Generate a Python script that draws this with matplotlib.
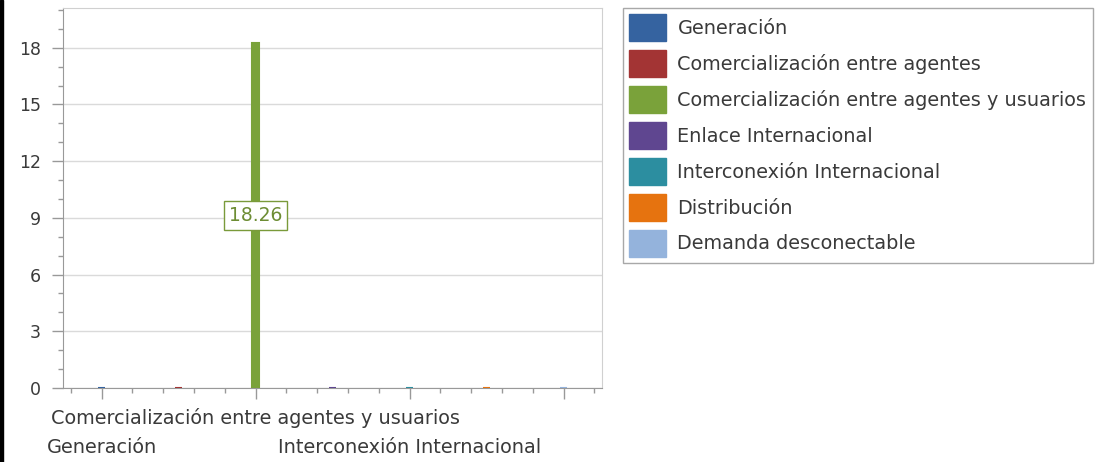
import matplotlib
matplotlib.use("Agg")
import matplotlib.pyplot as plt
from matplotlib.patches import Patch, Rectangle
from matplotlib.ticker import MultipleLocator

categories = ["Generación", "Comercialización entre agentes",
              "Comercialización entre agentes y usuarios", "Enlace Internacional",
              "Interconexión Internacional", "Distribución", "Demanda desconectable"]
values = [0, 0, 18.26, 0, 0, 0, 0]
colors = ["#3563a0", "#a33434", "#7aa23a", "#5f4690", "#2c8ea0", "#e6730f", "#94b3dc"]
yticks = [0, 3, 6, 9, 12, 15, 18]

plt.rcParams['font.family'] = ['DejaVu Sans']
FS = 13.9
TXT = "#3a3a3a"

fig = plt.figure(figsize=(11.05, 4.62), dpi=100)
W, H = 1105, 462
ax = fig.add_axes([63 / W, 1 - 388 / H, (602 - 63) / W, (388 - 8) / H])

x = list(range(len(categories)))
bars = ax.bar(x, values, width=0.09, color=colors, edgecolor=colors, linewidth=1.5, zorder=3)
labels = [f"{v:.2f}" if v > 0 else "" for v in values]
ax.bar_label(bars, labels=labels, label_type='center', fontsize=13.5, color="#6d8d34",
             bbox=dict(boxstyle="square,pad=0.25", fc="white", ec="#7a9a3a", lw=1))

ax.set_xlim(-0.5, 6.5)
ax.set_ylim(0, 20.1)
ax.set_yticks(yticks)
ax.yaxis.set_minor_locator(MultipleLocator(1))
ax.grid(axis='y', color="#dadada", lw=1, zorder=0)
ax.set_axisbelow(True)

major = [0, 2, 4, 6]
ax.set_xticks(major)
ax.set_xticklabels([categories[m] if m < 6 else "" for m in major], fontsize=FS, color=TXT)
ax.xaxis.set_minor_locator(MultipleLocator(0.4))

ax.tick_params(axis='both', which='major', length=8, width=1, color="#999999")
ax.tick_params(axis='both', which='minor', length=3.6, width=1, color="#999999")
ax.tick_params(axis='y', labelsize=12.5, labelcolor=TXT, pad=8)
for i, tk in enumerate(ax.xaxis.get_major_ticks()):
    tk.set_pad(28 if i % 2 == 0 else 6.3)

for s in ['top', 'right']:
    ax.spines[s].set_color("#d0d0d0")
for s in ['left', 'bottom']:
    ax.spines[s].set_color("#999999")

handles = [Patch(facecolor=c, edgecolor=c) for c in colors]
leg = fig.legend(handles, categories, loc='upper left',
                 bbox_to_anchor=(623 / W, 1 - 8 / H), fontsize=FS,
                 handlelength=1.92, handleheight=1.775, labelspacing=0.46,
                 handletextpad=0.57, borderpad=0.33, borderaxespad=0,
                 fancybox=False, framealpha=1, edgecolor="#a8a8a8")
leg.get_frame().set_linewidth(1)
for t in leg.get_texts():
    t.set_color(TXT)

fig.patches.append(Rectangle((0, 0), 3 / W, 1, transform=fig.transFigure, color="black"))

fig.savefig("out.png", dpi=100)
